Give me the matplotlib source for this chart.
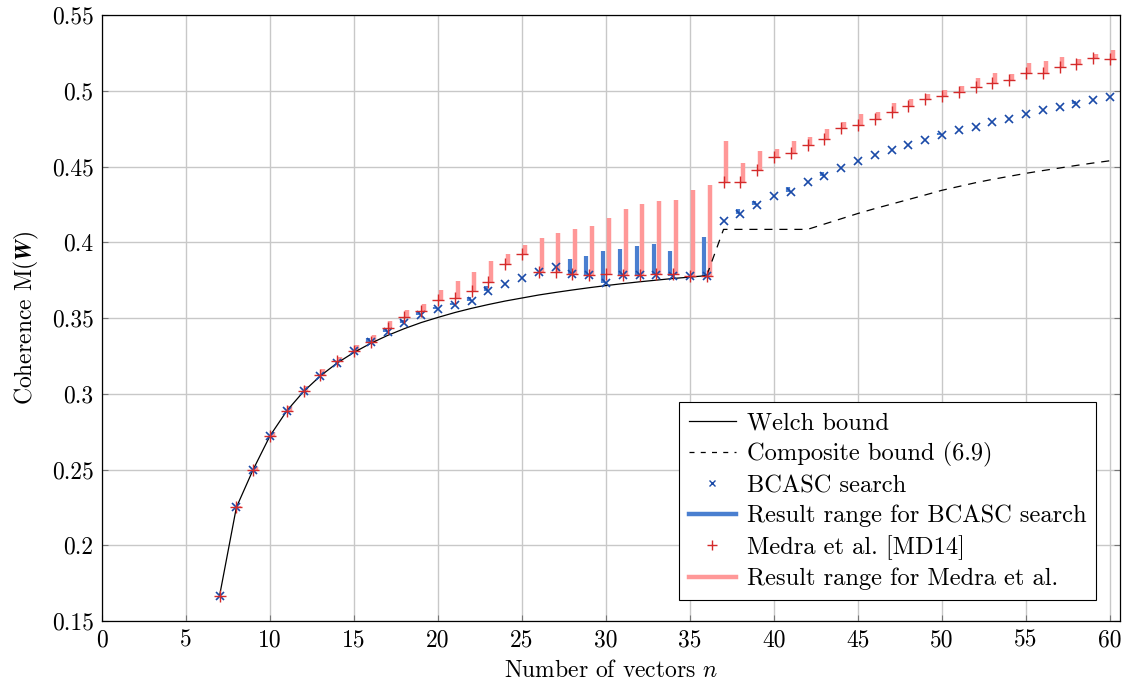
"""
Coherence of n vectors in C^6: Welch / composite bounds vs BCASC search and Medra et al.

Output: out.png
"""
import matplotlib
matplotlib.use("Agg")
import matplotlib.pyplot as plt
import numpy as np

plt.rcParams["font.family"] = "serif"
plt.rcParams["font.serif"] = ["cmr10"]
plt.rcParams["mathtext.fontset"] = "cm"
plt.rcParams["axes.formatter.use_mathtext"] = True

# ---- data ----
n_welch = list(range(7, 37))
welch = [0.1667, 0.2250, 0.2500, 0.2722, 0.2887, 0.3015, 0.3118, 0.3203, 0.3273, 0.3333,
         0.3385, 0.3430, 0.3470, 0.3504, 0.3536, 0.3564, 0.3589, 0.3612, 0.3632, 0.3652,
         0.3669, 0.3685, 0.3700, 0.3714, 0.3727, 0.3739, 0.3750, 0.3761, 0.3770, 0.3780]

n_comp = list(range(36, 61))
composite = [0.3780, 0.4085, 0.4085, 0.4085, 0.4085, 0.4085, 0.4085, 0.4120, 0.4155, 0.4190,
             0.4222, 0.4252, 0.4282, 0.4312, 0.4343, 0.4368, 0.4393, 0.4415, 0.4435, 0.4455,
             0.4473, 0.4490, 0.4507, 0.4523, 0.4538]

n_vec = list(range(7, 61))
bcasc = [0.1667, 0.2250, 0.2500, 0.2722, 0.2887, 0.3015, 0.3120, 0.3205, 0.3284, 0.3344,
         0.3410, 0.3465, 0.3520, 0.3557, 0.3584, 0.3612, 0.3680, 0.3726, 0.3766, 0.3801,
         0.3835, 0.3790, 0.3786, 0.3729, 0.3786, 0.3786, 0.3786, 0.3780, 0.3777, 0.3777,
         0.4142, 0.4186, 0.4244, 0.4303, 0.4334, 0.4400, 0.4437, 0.4488, 0.4536, 0.4576,
         0.4609, 0.4642, 0.4675, 0.4710, 0.4739, 0.4761, 0.4794, 0.4816, 0.4845, 0.4871,
         0.4891, 0.4915, 0.4937, 0.4961]
bcasc_max = [0.1667, 0.2250, 0.2500, 0.2722, 0.2887, 0.3015, 0.3120, 0.3205, 0.3284, 0.3365,
             0.3430, 0.3490, 0.3540, 0.3575, 0.3600, 0.3640, 0.3710, 0.3726, 0.3766, 0.3801,
             0.3835, 0.3887, 0.3911, 0.3944, 0.3958, 0.3977, 0.3991, 0.3944, 0.3777, 0.4037,
             0.4142, 0.4217, 0.4272, 0.4303, 0.4367, 0.4400, 0.4466, 0.4488, 0.4536, 0.4576,
             0.4609, 0.4642, 0.4675, 0.4724, 0.4739, 0.4761, 0.4794, 0.4816, 0.4845, 0.4871,
             0.4891, 0.4930, 0.4937, 0.4961]

medra = [0.1667, 0.2250, 0.2500, 0.2722, 0.2888, 0.3020, 0.3125, 0.3218, 0.3284, 0.3344,
         0.3432, 0.3509, 0.3548, 0.3619, 0.3634, 0.3680, 0.3736, 0.3854, 0.3920, 0.3802,
         0.3806, 0.3790, 0.3786, 0.3790, 0.3786, 0.3786, 0.3790, 0.3790, 0.3777, 0.3777,
         0.4400, 0.4400, 0.4477, 0.4561, 0.4591, 0.4640, 0.4682, 0.4752, 0.4772, 0.4812,
         0.4862, 0.4899, 0.4943, 0.4965, 0.4994, 0.5023, 0.5053, 0.5071, 0.5119, 0.5115,
         0.5155, 0.5177, 0.5214, 0.5210]
medra_max = [0.1667, 0.2260, 0.2515, 0.2745, 0.2919, 0.3051, 0.3161, 0.3245, 0.3322, 0.3390,
             0.3480, 0.3553, 0.3592, 0.3685, 0.3744, 0.3804, 0.3876, 0.3922, 0.3980, 0.4026,
             0.4063, 0.4090, 0.4109, 0.4162, 0.4222, 0.4255, 0.4274, 0.4281, 0.4347, 0.4380,
             0.4668, 0.4523, 0.4602, 0.4616, 0.4668, 0.4693, 0.4745, 0.4792, 0.4845, 0.4858,
             0.4917, 0.4943, 0.4979, 0.5003, 0.5031, 0.5082, 0.5115, 0.5109, 0.5181, 0.5194,
             0.5221, 0.5208, 0.5243, 0.5269]

x_ticks = list(range(0, 61, 5))
y_ticks = [0.15, 0.2, 0.25, 0.3, 0.35, 0.4, 0.45, 0.5, 0.55]

BLUE_MARK = "#1a4aa8"
BLUE_BAR = "#4a7fd0"
RED_MARK = "#d42a2a"
RED_BAR = "#ff9898"
FS = 17

fig = plt.figure(figsize=(11.22, 6.82), dpi=100)
ax = fig.add_axes([0.0909, 0.0894, 0.9073, 0.8886])

nv = np.array(n_vec, dtype=float)

# result ranges (drawn first, behind markers)
ax.vlines(nv - 0.16, bcasc, bcasc_max, colors=BLUE_BAR, linewidth=3.0, zorder=2)
ax.vlines(nv + 0.17, medra, medra_max, colors=RED_BAR, linewidth=3.2, zorder=2)

ax.plot(n_welch, welch, color="black", linewidth=0.9, zorder=3)
ax.plot(n_comp, composite, color="black", linewidth=0.9, linestyle=(0, (6.5, 5.5)), zorder=3)

ax.plot(n_vec, bcasc, linestyle="none", marker="x", markersize=6, markeredgewidth=1.2,
        color=BLUE_MARK, zorder=4)
ax.plot(n_vec, medra, linestyle="none", marker="+", markersize=8, markeredgewidth=1.0,
        color=RED_MARK, zorder=5)

# legend proxies
h_welch, = ax.plot([], [], color="black", linewidth=0.9)
h_comp, = ax.plot([], [], color="black", linewidth=0.9, linestyle=(0, (4, 5)))
h_bx, = ax.plot([], [], linestyle="none", marker="x", markersize=5, markeredgewidth=1.0,
                color=BLUE_MARK)
h_br, = ax.plot([], [], color=BLUE_BAR, linewidth=3.2)
h_mp, = ax.plot([], [], linestyle="none", marker="+", markersize=7, markeredgewidth=1.0,
                color=RED_MARK)
h_mr, = ax.plot([], [], color=RED_BAR, linewidth=3.2)

leg = ax.legend([h_welch, h_comp, h_bx, h_br, h_mp, h_mr],
                ["Welch bound", "Composite bound (6.9)", "BCASC search",
                 "Result range for BCASC search", "Medra et al. [MD14]",
                 "Result range for Medra et al."],
                loc="lower right", bbox_to_anchor=(0.9764, 0.0347),
                fontsize=17.6, frameon=True, fancybox=False, framealpha=1,
                edgecolor="black", handlelength=1.9, labelspacing=0.32,
                borderpad=0.4, handletextpad=0.45, borderaxespad=0)
leg.get_frame().set_linewidth(0.8)
leg.set_zorder(10)

ax.set_xlim(0, 60.6)
ax.set_ylim(0.15, 0.55)
ax.set_xticks(x_ticks)
ax.set_xticklabels([str(t) for t in x_ticks])
ax.set_yticks(y_ticks)
ax.set_yticklabels([f"{t:g}" for t in y_ticks])
ax.tick_params(direction="in", length=4, width=0.8, color="#777777",
               labelsize=FS, top=False, right=True, pad=6)
ax.grid(True, color="#c8c8c8", linewidth=1.0, zorder=0)
ax.set_axisbelow(True)
for sp in ax.spines.values():
    sp.set_linewidth(0.9)
    sp.set_color("black")

ax.set_xlabel("Number of vectors $n$", fontsize=FS, labelpad=6)
ax.set_ylabel(r"Coherence M($\boldsymbol{W}$)", fontsize=FS, labelpad=8)

fig.savefig("out.png", dpi=100)
plt.close(fig)
